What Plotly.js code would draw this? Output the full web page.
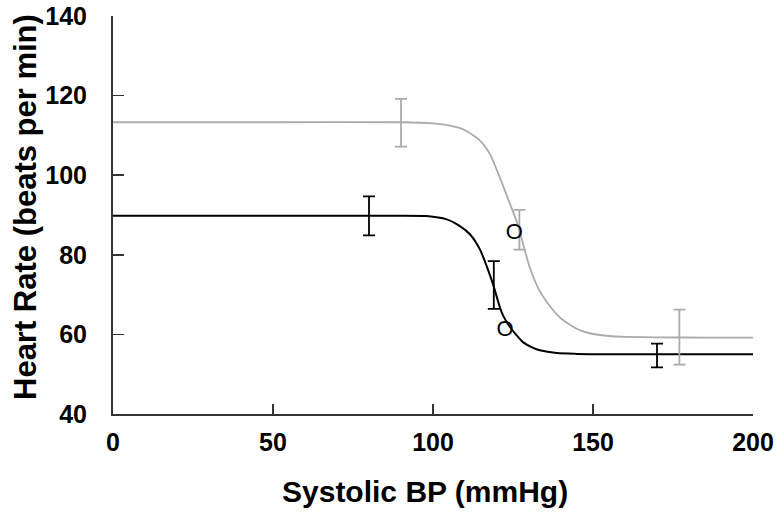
<!DOCTYPE html>
<html>
<head>
<meta charset="utf-8">
<script src="https://cdn.plot.ly/plotly-3.0.1.min.js"></script>
<style>html,body{margin:0;padding:0;background:#fff;}#chart{width:784px;height:514px;}</style>
</head>
<body>
<div id="chart"></div>
<script>
// Fitted curves
const grayCurveX = [0, 50, 90, 100, 105, 110, 114.7, 117.8, 120.9, 124.1, 126.2, 127.2, 130.3, 133.4, 135.5, 137.6, 140, 143, 146, 150, 155, 160.5, 170, 185, 200];
const grayCurveY = [113.3, 113.3, 113.3, 113.0, 112.5, 111.3, 108.7, 105.3, 99.4, 92.7, 88.3, 85.5, 76.7, 70.8, 68.2, 66.0, 64.0, 62.3, 61.0, 60.1, 59.6, 59.4, 59.25, 59.2, 59.2];
const blackCurveX = [0, 50, 80, 98, 104.3, 108.4, 111.6, 114.7, 116.8, 118.8, 120.9, 122, 124.1, 126.2, 128.2, 131.3, 133.4, 138.7, 145, 152, 170, 200];
const blackCurveY = [89.8, 89.8, 89.8, 89.75, 88.9, 87.2, 85.1, 81.3, 77.1, 72.5, 66.8, 64.6, 61.8, 59.7, 58.0, 56.6, 56.0, 55.3, 55.1, 55.0, 55.0, 55.0];

// Data points with error bars
const grayPtX = [90, 127, 177];
const grayPtY = [113.2, 86.3, 59.3];
const grayPtErr = [6.0, 5.0, 6.9];
const blackPtX = [80, 119, 170];
const blackPtY = [89.8, 72.4, 54.7];
const blackPtErr = [4.9, 6.0, 3.0];

// "O" markers
const oX = [125.4, 122.5];
const oY = [85.4, 61.1];
const oText = ['O', 'O'];

// Axis titles and tick labels
const xTitle = 'Systolic BP (mmHg)';
const yTitle = 'Heart Rate (beats per min)';
const xTicks = [0, 50, 100, 150, 200];
const yTicks = [40, 60, 80, 100, 120, 140];

const GRAY = '#ababab';
const FONT = 'Liberation Sans, Arial, sans-serif';
const traces = [
  {x: grayCurveX, y: grayCurveY, mode: 'lines', line: {color: GRAY, width: 1.8, shape: 'spline', smoothing: 0.6}, hoverinfo: 'skip'},
  {x: blackCurveX, y: blackCurveY, mode: 'lines', line: {color: '#000', width: 2, shape: 'spline', smoothing: 0.6}, hoverinfo: 'skip'},
  {x: grayPtX, y: grayPtY, mode: 'markers', marker: {size: 1, color: 'rgba(0,0,0,0)'},
   error_y: {type: 'data', array: grayPtErr, visible: true, color: GRAY, thickness: 1.8, width: 6}},
  {x: blackPtX, y: blackPtY, mode: 'markers', marker: {size: 1, color: 'rgba(0,0,0,0)'},
   error_y: {type: 'data', array: blackPtErr, visible: true, color: '#000', thickness: 1.8, width: 6}},
  {x: oX, y: oY, mode: 'text', text: oText, textposition: 'middle center',
   textfont: {family: FONT, size: 22, color: '#000'}, hoverinfo: 'skip'}
];

const tickFont = {family: FONT, size: 25, color: '#000', weight: 'bold'};
const layout = {
  width: 784, height: 514,
  margin: {l: 113, r: 31, t: 16, b: 100},
  paper_bgcolor: '#fff', plot_bgcolor: '#fff',
  showlegend: false,
  xaxis: {
    range: [0, 200], tickvals: xTicks, ticktext: xTicks.map(String),
    showgrid: false, zeroline: false, showline: true, linecolor: '#333', linewidth: 2,
    ticks: 'inside', ticklen: 10, tickwidth: 1.5, tickcolor: '#333',
    tickfont: tickFont, ticklabelstandoff: 5
  },
  yaxis: {
    range: [40, 140], tickvals: yTicks, ticktext: yTicks.map(String),
    showgrid: false, zeroline: false, showline: true, linecolor: '#333', linewidth: 2,
    ticks: 'inside', ticklen: 11, tickwidth: 1.5, tickcolor: '#333',
    tickfont: tickFont, ticklabelstandoff: 19
  },
  annotations: [
    {text: xTitle, xref: 'paper', yref: 'paper', x: (424.5 - 113) / 640, y: (414 - 491) / 398,
     xanchor: 'center', yanchor: 'middle', showarrow: false,
     font: {family: FONT, size: 30, color: '#000', weight: 'bold'}},
    {text: yTitle, xref: 'paper', yref: 'paper', x: (25 - 113) / 640, y: (414 - 207) / 398,
     xanchor: 'center', yanchor: 'middle', showarrow: false, textangle: -90,
     font: {family: FONT, size: 31, color: '#000', weight: 'bold'}}
  ]
};
Plotly.newPlot('chart', traces, layout, {displayModeBar: false, staticPlot: true});
</script>
</body>
</html>
